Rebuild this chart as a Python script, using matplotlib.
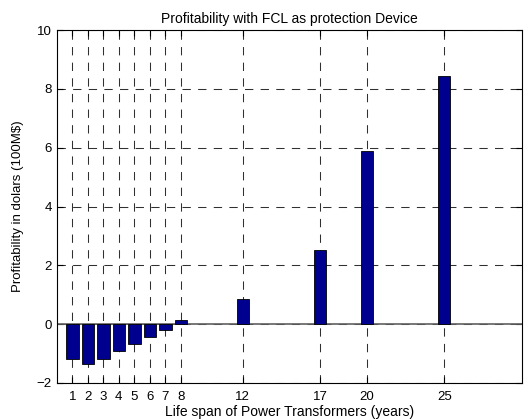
import matplotlib
matplotlib.use('Agg')
import matplotlib.pyplot as plt

plt.rcParams['font.family'] = ['Liberation Sans', 'DejaVu Sans']
plt.rcParams['font.size'] = 8

# data
years = [1, 2, 3, 4, 5, 6, 7, 8, 12, 17, 20, 25]
profit = [-1.17, -1.34, -1.17, -0.91, -0.66, -0.42, -0.19, 0.13, 0.85, 2.52, 5.88, 8.45]
y_ticks = [-2, 0, 2, 4, 6, 8, 10]

fig = plt.figure(figsize=(5.26, 4.19), dpi=100)
ax = fig.add_axes([0.108, 0.086, 0.884, 0.842])

ax.axhline(0, color='#606060', linewidth=1.2, zorder=1)
ax.bar(years, profit, width=0.8, color='#00008f', edgecolor='black', linewidth=0.6, zorder=3)

ax.set_xlim(0, 30)
ax.set_ylim(-2, 10)
ax.set_xticks(years)
ax.set_yticks(y_ticks)
ax.grid(True, color='#303030', linestyle=(0, (8, 7)), linewidth=0.75, zorder=0)
ax.set_axisbelow(True)
ax.tick_params(direction='in', length=4, width=0.8, top=True, right=True, labelsize=9.5)
ax.tick_params(axis='x', pad=6)
for s in ax.spines.values():
    s.set_linewidth(0.8)

ax.set_title('Profitability with FCL as protection Device', fontsize=10, pad=5)
ax.set_xlabel('Life span of Power Transformers (years)', fontsize=10, labelpad=1)
ax.set_ylabel('Profitability in dolars (100M$)', fontsize=9.5, labelpad=9)

fig.savefig('out.png', dpi=100)
